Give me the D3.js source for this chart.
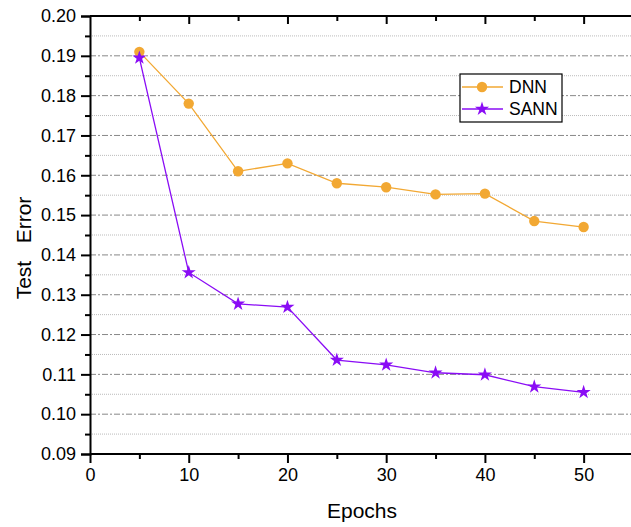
<!DOCTYPE html>
<html>
<head>
<meta charset="utf-8">
<script src="https://cdn.jsdelivr.net/npm/d3@7"></script>
<style>
  body { margin: 0; background: #fff; }
  svg { display: block; font-family: "Liberation Sans", Arial, sans-serif; }
</style>
</head>
<body>
<svg width="631" height="527"></svg>
<script>
// data
var epochs = [5, 10, 15, 20, 25, 30, 35, 40, 45, 50];
var dnnError = [0.191, 0.178, 0.161, 0.163, 0.158, 0.157, 0.1552, 0.1554, 0.1485, 0.147];
var sannError = [0.1895, 0.1356, 0.1277, 0.1269, 0.1136, 0.1124, 0.1104, 0.1099, 0.1069, 0.1055];
var xTicks = [0, 10, 20, 30, 40, 50];
var yTicks = [0.09, 0.10, 0.11, 0.12, 0.13, 0.14, 0.15, 0.16, 0.17, 0.18, 0.19, 0.20];
var seriesNames = ["DNN", "SANN"];
var seriesColors = ["#F2A833", "#8A0CF5"];

var svg = d3.select("svg");
var plot = {left: 90, right: 633, top: 16, bottom: 454};

var xScale = d3.scaleLinear()
		.domain([0, 55])
		.range([plot.left, plot.right]);
var yScale = d3.scaleLinear()
		.domain([0.09, 0.20])
		.range([plot.bottom, plot.top]);

// grid: dotted minor lines, dash-dot major lines
var minorY = d3.range(0.095, 0.2, 0.01);
svg.append("g")
	.selectAll("line")
	.data(minorY)
	.enter().append("line")
	.attr("x1", plot.left).attr("x2", 631)
	.attr("y1", function(d){ return yScale(d); })
	.attr("y2", function(d){ return yScale(d); })
	.attr("stroke", "#bbb")
	.attr("stroke-width", 1)
	.attr("stroke-dasharray", "1,1");

svg.append("g")
	.selectAll("line")
	.data(yTicks.slice(1, -1))
	.enter().append("line")
	.attr("x1", plot.left).attr("x2", 631)
	.attr("y1", function(d){ return yScale(d); })
	.attr("y2", function(d){ return yScale(d); })
	.attr("stroke", "#888")
	.attr("stroke-width", 1)
	.attr("stroke-dasharray", "6,2,2,2");

// axes
var xAxis = svg.append("g")
	.attr("transform", "translate(0," + plot.bottom + ")")
	.call(d3.axisBottom(xScale).tickValues(xTicks).tickSize(9).tickPadding(5)
		.tickFormat(d3.format("d")));
var xMinor = svg.append("g")
	.attr("transform", "translate(0," + plot.bottom + ")")
	.call(d3.axisBottom(xScale).tickValues(d3.range(5, 55, 10)).tickSize(5).tickFormat(""));

var yAxis = svg.append("g")
	.attr("transform", "translate(" + plot.left + ",0)")
	.call(d3.axisLeft(yScale).tickValues(yTicks).tickSize(9).tickPadding(5)
		.tickFormat(d3.format(".2f")));
var yMinor = svg.append("g")
	.attr("transform", "translate(" + plot.left + ",0)")
	.call(d3.axisLeft(yScale).tickValues(minorY).tickSize(5).tickFormat(""));

// top border with small inward ticks
var xTop = svg.append("g")
	.attr("transform", "translate(0," + plot.top + ")")
	.call(d3.axisTop(xScale).tickValues(d3.range(5, 55, 5)).tickSize(-5).tickFormat(""));
xTop.selectAll(".tick line").filter(function(d){ return d % 10 == 0; }).attr("y2", 8);

[xAxis, xMinor, yAxis, yMinor, xTop].forEach(function(g){
	g.select(".domain").attr("stroke", "#000").attr("stroke-width", 2);
	g.selectAll(".tick line").attr("stroke", "#000").attr("stroke-width", 2);
	g.selectAll("text").attr("font-size", 18).attr("fill", "#000")
		.attr("font-family", "Liberation Sans, Arial, sans-serif");
});
xTop.select(".domain").attr("d", "M" + plot.left + ",0H631");
xAxis.select(".domain").attr("d", "M" + plot.left + ",0H631");
xMinor.select(".domain").remove();
yMinor.select(".domain").remove();

// axis titles
svg.append("text")
	.attr("x", 362).attr("y", 518)
	.attr("text-anchor", "middle")
	.attr("font-size", 21)
	.attr("fill", "#000")
	.text("Epochs");
svg.append("text")
	.attr("transform", "translate(31,248) rotate(-90)")
	.attr("text-anchor", "middle")
	.attr("font-size", 21)
	.attr("fill", "#000")
	.attr("xml:space", "preserve")
	.text("Test   Error");

// lines and markers
var line = d3.line()
	.x(function(d){ return xScale(d[0]); })
	.y(function(d){ return yScale(d[1]); });

var dnnData = epochs.map(function(e, i){ return [e, dnnError[i]]; });
var sannData = epochs.map(function(e, i){ return [e, sannError[i]]; });

svg.append("path")
	.datum(dnnData)
	.attr("d", line)
	.attr("fill", "none")
	.attr("stroke", seriesColors[0])
	.attr("stroke-width", 1.3);
svg.append("path")
	.datum(sannData)
	.attr("d", line)
	.attr("fill", "none")
	.attr("stroke", seriesColors[1])
	.attr("stroke-width", 1.3);

var circleSym = d3.symbol().type(d3.symbolCircle).size(85);
var starSym = d3.symbol().type(d3.symbolStar).size(62);

svg.append("g")
	.selectAll("path")
	.data(dnnData)
	.enter().append("path")
	.attr("d", circleSym)
	.attr("transform", function(d){ return "translate(" + xScale(d[0]) + "," + yScale(d[1]) + ")"; })
	.attr("fill", seriesColors[0]);
svg.append("g")
	.selectAll("path")
	.data(sannData)
	.enter().append("path")
	.attr("d", starSym)
	.attr("transform", function(d){ return "translate(" + xScale(d[0]) + "," + yScale(d[1]) + ")"; })
	.attr("fill", seriesColors[1]);

// legend
var legend = svg.append("g").attr("transform", "translate(460,74)");
legend.append("rect")
	.attr("width", 102).attr("height", 48)
	.attr("fill", "#fff")
	.attr("stroke", "#000")
	.attr("stroke-width", 1.2);
var symbols = [circleSym, starSym];
seriesNames.forEach(function(name, i){
	var yy = 13 + i * 22;
	legend.append("line")
		.attr("x1", 2).attr("x2", 43)
		.attr("y1", yy).attr("y2", yy)
		.attr("stroke", seriesColors[i])
		.attr("stroke-width", 1.3);
	legend.append("path")
		.attr("d", symbols[i])
		.attr("transform", "translate(22," + yy + ")")
		.attr("fill", seriesColors[i]);
	legend.append("text")
		.attr("x", 49).attr("y", yy + 6)
		.attr("font-size", 17.5)
		.attr("fill", "#000")
		.text(name);
});
</script>
</body>
</html>
